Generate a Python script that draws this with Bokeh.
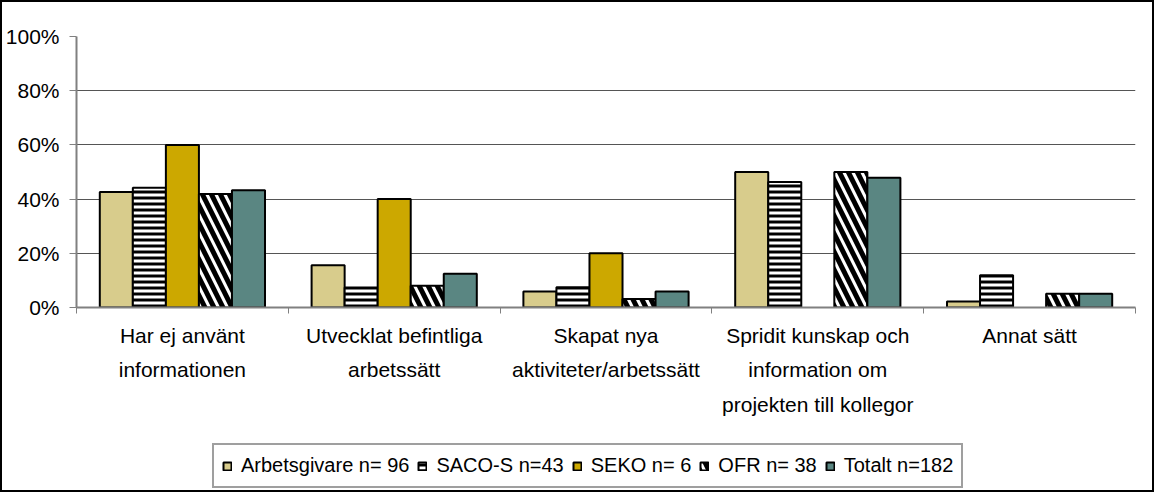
from bokeh.plotting import figure
from bokeh.layouts import column
from bokeh.models import FixedTicker, Legend, LegendItem, ColumnDataSource, Range1d
from bokeh.embed import file_html
from bokeh.resources import INLINE

# ---- data ----
categories = [
    "Har ej använt\ninformationen",
    "Utvecklat befintliga\narbetssätt",
    "Skapat nya\naktiviteter/arbetssätt",
    "Spridit kunskap och\ninformation om\nprojekten till kollegor",
    "Annat sätt",
]
series_names = ["Arbetsgivare n= 96", "SACO-S n=43", "SEKO n= 6", "OFR n= 38", "Totalt n=182"]
arbetsgivare = [42.6, 15.6, 5.9, 50.0, 2.2]
saco_s = [44.2, 7.4, 7.5, 46.3, 11.9]
seko = [60.0, 40.0, 20.0, 0.0, 0.0]
ofr = [41.9, 8.0, 3.1, 50.0, 5.1]
totalt = [43.3, 12.5, 5.9, 47.9, 5.1]
y_ticks = [0, 20, 40, 60, 80, 100]
y_tick_labels = ["0%", "20%", "40%", "60%", "80%", "100%"]

series_values = [arbetsgivare, saco_s, seko, ofr, totalt]
styles = [
    dict(fill_color="#D8CC8C"),
    dict(fill_color="white", hatch_pattern="horizontal_line", hatch_color="black", hatch_scale=6, hatch_weight=3),
    dict(fill_color="#CCA800"),
    dict(fill_color="white", hatch_pattern="left_diagonal_line", hatch_color="black", hatch_scale=18, hatch_weight=5),
    dict(fill_color="#5A8682"),
]

FONT = "Liberation Sans"
n_cat = len(categories)
n_ser = len(series_names)
bar_w = 0.156
W = 1150

p = figure(
    width=W, height=420,
    x_range=Range1d(0, n_cat), y_range=Range1d(0, 100),
    output_backend="svg", toolbar_location=None,
    min_border_left=74, min_border_right=17, min_border_top=34, min_border_bottom=115,
)
p.outline_line_color = None
p.background_fill_color = "white"
p.border_fill_color = "white"

sources = []
for j, (name, vals, st) in enumerate(zip(series_names, series_values, styles)):
    xs = [i + 0.5 + (j - (n_ser - 1) / 2) * bar_w for i, v in enumerate(vals) if v > 0]
    tops = [v for v in vals if v > 0]
    src = ColumnDataSource(dict(x=xs, top=tops))
    sources.append(src)
    p.vbar(x="x", top="top", bottom=0, width=bar_w, source=src,
           line_color="black", line_width=2, **st)

# grid
p.xgrid.visible = False
p.ygrid.ticker = FixedTicker(ticks=[t for t in y_ticks if 0 < t < 100])
p.ygrid.grid_line_color = "#555555"
p.ygrid.grid_line_width = 1

# y axis
ya = p.yaxis[0]
ya.ticker = FixedTicker(ticks=y_ticks)
ya.major_label_overrides = {t: l for t, l in zip(y_ticks, y_tick_labels)}
ya.axis_line_color = "#808080"
ya.axis_line_width = 2
ya.major_tick_line_color = "#808080"
ya.major_tick_line_width = 1
ya.major_tick_out = 7
ya.major_tick_in = 0
ya.minor_tick_line_color = None
ya.major_label_text_font = FONT
ya.major_label_text_font_size = "21px"
ya.major_label_text_color = "black"
ya.major_label_standoff = 10

# x axis
xa = p.xaxis[0]
centers = [i + 0.5 for i in range(n_cat)]
xa.ticker = FixedTicker(ticks=centers, minor_ticks=list(range(n_cat + 1)))
xa.major_label_overrides = {c: lab for c, lab in zip(centers, categories)}
xa.axis_line_color = "#808080"
xa.axis_line_width = 2
xa.major_tick_line_color = None
xa.major_tick_out = 0
xa.major_tick_in = 0
xa.minor_tick_line_color = "#808080"
xa.minor_tick_line_width = 1
xa.minor_tick_out = 6
xa.minor_tick_in = 0
xa.major_label_text_font = FONT
xa.major_label_text_font_size = "21px"
xa.major_label_text_color = "black"
xa.major_label_text_line_height = 1.5
xa.major_label_standoff = 10

# ---- legend strip ----
lg = figure(
    width=W, height=68, x_range=Range1d(0, 1), y_range=Range1d(0, 1),
    output_backend="svg", toolbar_location=None,
    min_border=0, min_border_left=0, min_border_right=0, min_border_top=0, min_border_bottom=0,
)
lg.axis.visible = False
lg.grid.visible = False
lg.outline_line_color = None
lg.background_fill_color = "white"
lg.border_fill_color = "white"

items = []
for name, st, src in zip(series_names, styles, sources):
    r = lg.vbar(x="x", top="top", bottom=0, width=bar_w, source=src,
                line_color="black", line_width=2, visible=False, **st)
    items.append(LegendItem(label=name, renderers=[r]))

legend = Legend(
    items=items, orientation="horizontal", location=(136, 2),
    label_text_font=FONT, label_text_font_size="20px", label_text_color="black",
    glyph_width=10, glyph_height=10, label_standoff=9, spacing=8,
    padding=8, label_height=25, margin=0,
    border_line_color="#404040", border_line_width=2,
    background_fill_color="white", background_fill_alpha=1,
    inactive_fill_alpha=0,
)
lg.add_layout(legend, "center")

layout = column(p, lg, spacing=0)
layout.styles = {"border": "2px solid #000000", "background-color": "white"}

open("out.html", "w").write(file_html(layout, INLINE))
